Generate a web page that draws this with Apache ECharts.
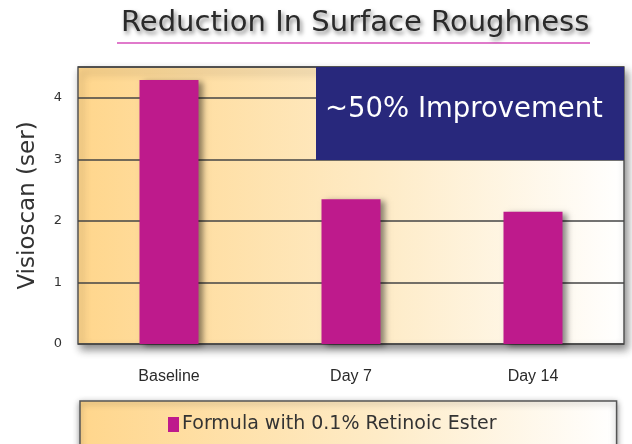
<!DOCTYPE html>
<html>
<head>
<meta charset="utf-8">
<script src="https://cdn.jsdelivr.net/npm/echarts@6/dist/echarts.min.js"></script>
<style>
  html, body { margin: 0; padding: 0; background: #fff; }
  #chart { width: 632px; height: 444px; }
</style>
</head>
<body>
<div id="chart"></div>
<script>
  // data
  const categories = ['Baseline', 'Day 7', 'Day 14'];
  const values = [4.29, 2.35, 2.15];
  const seriesName = 'Formula with 0.1% Retinoic Ester';
  const yTicks = [0, 1, 2, 3, 4];

  const chart = echarts.init(document.getElementById('chart'));

  const warmGradient = new echarts.graphic.LinearGradient(0, 0, 1, 0, [
    {offset: 0, color: '#FFD68C'},
    {offset: 0.55, color: '#FEEBC6'},
    {offset: 1, color: '#FFFFFF'}
  ]);

  chart.setOption({
    backgroundColor: '#fff',
    animation: false,
    title: {
      text: 'Reduction In Surface Roughness',
      left: 116,
      top: 4,
      textStyle: {
        fontFamily: 'DejaVu Sans',
        fontWeight: 'normal',
        fontSize: 29,
        color: '#2a2a2a',
        textShadowColor: 'rgba(0,0,0,0.5)',
        textShadowBlur: 4,
        textShadowOffsetX: 2,
        textShadowOffsetY: 3
      }
    },
    graphic: [
      {
        type: 'line',
        shape: {x1: 117, y1: 43, x2: 590, y2: 43},
        style: {stroke: '#E07ACB', lineWidth: 2}
      },
      {
        type: 'rect',
        z: 5,
        shape: {x: 316, y: 67, width: 308, height: 93},
        style: {fill: '#28287C'}
      },
      {
        type: 'text',
        z: 6,
        left: 325,
        top: 96,
        style: {
          text: '~50% Improvement',
          fill: '#fff',
          fontFamily: 'DejaVu Sans',
          fontSize: 27.5
        }
      }
    ],
    legend: {
      bottom: -16,
      left: 80,
      padding: [14, 120, 26, 88],
      itemGap: 0,
      icon: 'rect',
      itemWidth: 11,
      itemHeight: 15,
      backgroundColor: warmGradient,
      borderColor: '#555',
      borderWidth: 1.5,
      shadowColor: 'rgba(0,0,0,0.4)',
      shadowBlur: 6,
      shadowOffsetY: 2,
      textStyle: {
        fontFamily: 'DejaVu Sans',
        fontSize: 19,
        color: '#333',
        padding: [0, 0, 0, -2]
      }
    },
    grid: {
      left: 78,
      right: 8,
      top: 67,
      bottom: 100,
      show: true,
      backgroundColor: warmGradient,
      borderColor: '#555',
      borderWidth: 1.5,
      shadowColor: 'rgba(0,0,0,0.45)',
      shadowBlur: 8,
      shadowOffsetX: 3,
      shadowOffsetY: 5
    },
    xAxis: {
      type: 'category',
      data: categories,
      axisLine: {show: false},
      axisTick: {show: false},
      axisLabel: {
        margin: 25,
        fontFamily: 'Liberation Sans',
        fontSize: 16,
        color: '#2a2a2a'
      }
    },
    yAxis: {
      type: 'value',
      min: 0,
      max: 4.5,
      interval: 1,
      name: 'Visioscan (ser)',
      nameLocation: 'middle',
      nameGap: 38,
      nameTextStyle: {
        fontFamily: 'DejaVu Sans',
        fontSize: 23,
        color: '#333'
      },
      axisLine: {show: false},
      axisTick: {show: false},
      axisLabel: {
        margin: 16,
        fontFamily: 'DejaVu Sans',
        fontSize: 13,
        color: '#333',
        formatter: function (v) {
          return yTicks.indexOf(v) >= 0 ? String(v) : '';
        }
      },
      splitLine: {
        lineStyle: {color: '#444', width: 1.5}
      }
    },
    series: [
      {
        name: seriesName,
        type: 'bar',
        data: values,
        barWidth: 59,
        itemStyle: {
          color: '#BE1A8C',
          shadowColor: 'rgba(0,0,0,0.45)',
          shadowBlur: 6,
          shadowOffsetX: 4,
          shadowOffsetY: 2
        }
      }
    ]
  });
</script>
</body>
</html>
